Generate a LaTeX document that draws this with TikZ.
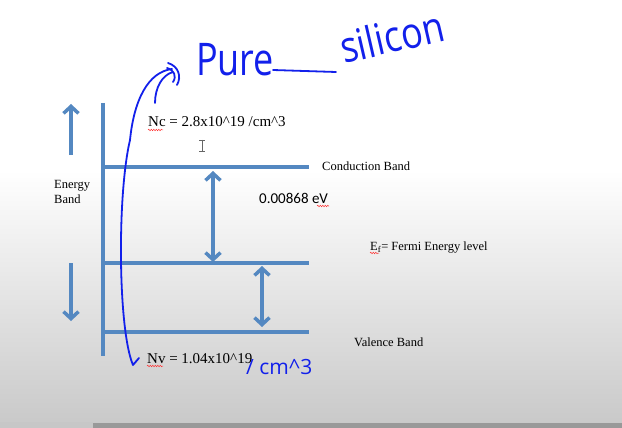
\documentclass[tikz,border=0pt]{standalone}
\usepackage{fontspec}
\setmainfont{Liberation Serif}
\newfontfamily\calfont{Carlito}
\newfontfamily\penfont{Open Sans}
\usetikzlibrary{positioning, arrows.meta, decorations.pathmorphing}
\definecolor{barblue}{RGB}{84,136,193}
\definecolor{penblue}{RGB}{18,32,235}

\begin{document}
\begin{tikzpicture}[
    x=1pt, y=-1pt,
    band/.style={draw=barblue, line width=4pt},
    dir/.style={draw=barblue, line width=3.5pt, -{Straight Barb[length=7pt, width=15pt]}},
    gap/.style={draw=barblue, line width=3.5pt, {Straight Barb[length=7pt, width=15pt]}-{Straight Barb[length=7pt, width=15pt]}},
    lbl/.style={font=\fontsize{12.5}{14}\selectfont, inner sep=0pt, anchor=base west, text=black},
    conc/.style={font=\fontsize{15}{17}\selectfont, inner sep=0pt, anchor=base west, text=black},
    ink/.style={draw=penblue, line width=1.8pt, line cap=round, line join=round},
    hand/.style={text=penblue, inner sep=0pt, anchor=base west},
    spell/.style={draw=red!80, line width=0.5pt, decorate, decoration={snake, amplitude=0.7pt, segment length=2.5pt}}
]

% Slide background, fading to grey
\useasboundingbox (0,0) rectangle (622,428);
\fill[white] (0,0) rectangle (622,428);
\shade[top color=white, bottom color=black!21] (0,170) rectangle (622,422);
\fill[black!22] (0,422) rectangle (93,428);
\fill[black!40] (93,423) rectangle (622,428);

% Energy axis and direction arrows
\coordinate (axtop) at (103,103);
\coordinate (axbot) at (103,356);
\draw[band] (axtop) -- (axbot);
\coordinate (up0) at (71,155);
\coordinate (up1) at (71,104);
\coordinate (dn0) at (71,263);
\coordinate (dn1) at (71,321);
\draw[dir] (up0) -- (up1);
\draw[dir] (dn0) -- (dn1);

% Band levels
\coordinate (cb0) at (103,167);
\coordinate (cb1) at (309,167);
\coordinate (fl0) at (103,263);
\coordinate (fl1) at (309,263);
\coordinate (vb0) at (103,332);
\coordinate (vb1) at (309,332);
\draw[band] (cb0) -- (cb1);
\draw[band] (fl0) -- (fl1);
\draw[band] (vb0) -- (vb1);

% Gaps between the levels
\coordinate (g1a) at (213,171);
\coordinate (g1b) at (213,262);
\coordinate (g2a) at (262,266);
\coordinate (g2b) at (262,327);
\draw[gap] (g1a) -- (g1b);
\draw[gap] (g2a) -- (g2b);

% Labels
\node[lbl] (eng) at (54,188) {Energy};
\node[lbl] (bnd) at (54,203) {Band};
\node[lbl] (cond) at (322,170.5) {Conduction Band};
\node[lbl] (fermi) at (370,250) {E\textsubscript{f}= Fermi Energy level};
\node[lbl] (val) at (354,346) {Valence Band};
\node[conc] (nc) at (148,127) {Nc = 2.8x10\textasciicircum19 /cm\textasciicircum3};
\node[conc] (nv) at (147,363) {Nv = 1.04x10\textasciicircum19};
\node[conc, font=\calfont\fontsize{15}{17}\selectfont] (gapval) at (259,203) {0.00868 eV};

% Spell-check marks
\draw[spell] (148,130) -- (163,130);
\draw[spell] (147,366) -- (163,366);
\draw[spell] (317,206) -- (329,206);
\draw[spell] (370,253) -- (379,253);

% Text cursor
\draw[black!60, line width=0.8pt] (199,140) -- (205,140) (202,140) -- (202,151) (199,151) -- (205,151);

% Handwritten notes
\node[hand, font=\penfont\fontsize{36}{36}\selectfont] (pure) at (196,76) {\scalebox{1}[1.25]{Pure}};
\node[hand, font=\penfont\fontsize{36}{36}\selectfont, rotate=13] (si) at (344,64) {\scalebox{1}[1.2]{silicon}};
\node[hand, font=\penfont\fontsize{21}{21}\selectfont] (percm) at (246,374) {/ cm\textasciicircum3};
\draw[ink] (139,358) -- (133,365) .. controls (118,330) and (117,195) .. (130,140)
    .. controls (134,100) and (148,72) .. (172,69);
\draw[ink] (155,103) .. controls (155,88) and (162,75) .. (173,72);
\draw[ink] (168,63) .. controls (178,66) and (182,76) .. (177,85);
\draw[ink] (167,68) .. controls (174,70) and (177,76) .. (173,82);
\draw[ink] (273,70) -- (336,72);

\end{tikzpicture}
\end{document}
